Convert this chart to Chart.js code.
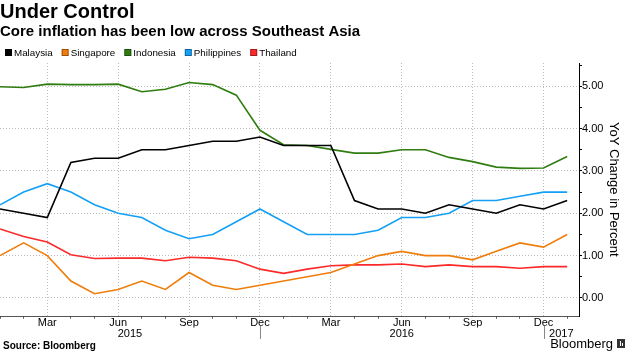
<!DOCTYPE html>
<html>
<head>
<meta charset="utf-8">
<script src="https://cdn.jsdelivr.net/npm/chart.js@4.4.1/dist/chart.umd.min.js"></script>
<style>
  html, body { margin: 0; padding: 0; background: #fff; }
</style>
</head>
<body>
<canvas id="lineChart" width="630" height="354"></canvas>
<script>
// monthly, Jan 2015 .. Jan 2017
const meses = ["Jan", "Feb", "Mar", "Apr", "May", "Jun", "Jul", "Aug", "Sep", "Oct", "Nov", "Dec",
               "Jan", "Feb", "Mar", "Apr", "May", "Jun", "Jul", "Aug", "Sep", "Oct", "Nov", "Dec", "Jan"];
const anos = ["2015", "2016", "2017"];
const anoPos = [5.5, 17, 23.75];
const yTicks = [0, 1, 2, 3, 4, 5];

const malaysia = [2.1, 2.0, 1.9, 3.2, 3.3, 3.3, 3.5, 3.5, 3.6, 3.7, 3.7, 3.8,
                  3.6, 3.6, 3.6, 2.3, 2.1, 2.1, 2.0, 2.2, 2.1, 2.0, 2.2, 2.1, 2.3];
const singapore = [1.0, 1.3, 1.0, 0.4, 0.1, 0.2, 0.4, 0.2, 0.6, 0.3, 0.2, 0.3,
                   0.4, 0.5, 0.6, 0.8, 1.0, 1.1, 1.0, 1.0, 0.9, 1.1, 1.3, 1.2, 1.5];
const indonesia = [4.99, 4.97, 5.05, 5.04, 5.04, 5.05, 4.87, 4.93, 5.09, 5.04, 4.79, 3.96,
                   3.62, 3.6, 3.51, 3.42, 3.42, 3.5, 3.5, 3.32, 3.22, 3.09, 3.06, 3.07, 3.34];
const philippines = [2.2, 2.5, 2.7, 2.5, 2.2, 2.0, 1.9, 1.6, 1.4, 1.5, 1.8, 2.1,
                     1.8, 1.5, 1.5, 1.5, 1.6, 1.9, 1.9, 2.0, 2.3, 2.3, 2.4, 2.5, 2.5];
const thailand = [1.63, 1.45, 1.32, 1.02, 0.93, 0.94, 0.94, 0.88, 0.96, 0.94, 0.88, 0.68,
                  0.58, 0.68, 0.76, 0.78, 0.78, 0.8, 0.74, 0.78, 0.74, 0.74, 0.7, 0.74, 0.74];

const fonte = "'Liberation Sans', Arial, sans-serif";
let pontos = (arr) => arr.map((v, i) => ({ x: i, y: v }));
let serie = (nome, arr, cor) => ({
    label: nome,
    data: pontos(arr),
    borderColor: cor,
    backgroundColor: cor,
    borderWidth: 1.6,
    pointRadius: 0,
    tension: 0
});
let mesPrincipal = (v) => v % 3 === 2;

// legend row under the subtitle, built from the datasets
const legenda = {
    id: 'legenda',
    afterDraw(chart) {
        const c = chart.ctx;
        c.save();
        c.font = `9.8px ${fonte}`;
        c.textBaseline = 'middle';
        c.textAlign = 'left';
        let x = 5;
        chart.data.datasets.forEach(ds => {
            c.fillStyle = ds.borderColor;
            c.fillRect(x, 49, 7, 7);
            c.strokeStyle = 'rgba(0,0,0,0.35)';
            c.lineWidth = 1;
            c.strokeRect(x + 0.5, 49.5, 6, 6);
            c.fillStyle = '#000';
            c.fillText(ds.label, x + 9, 53);
            x += 9 + c.measureText(ds.label).width + 9;
        });
        c.restore();
    }
};

// axis lines, year labels, year separators and footer
const rodape = {
    id: 'rodape',
    afterDraw(chart) {
        const c = chart.ctx;
        const x = chart.scales.x;
        const a = chart.chartArea;
        c.save();
        c.lineWidth = 1;
        c.strokeStyle = '#555';
        c.beginPath();
        c.moveTo(a.left, Math.round(a.bottom) + 0.5);
        c.lineTo(a.right, Math.round(a.bottom) + 0.5);
        c.stroke();
        c.strokeStyle = '#000';
        c.beginPath();
        c.moveTo(Math.round(a.right) + 0.5, a.top);
        c.lineTo(Math.round(a.right) + 0.5, Math.round(a.bottom) + 1);
        c.stroke();

        c.fillStyle = '#000';
        c.textAlign = 'center';
        c.textBaseline = 'middle';
        c.font = `11px ${fonte}`;
        anos.forEach((ano, i) => c.fillText(ano, x.getPixelForValue(anoPos[i]), 334));
        c.strokeStyle = '#888';
        [11, 23].forEach(v => {
            const px = Math.round(x.getPixelForValue(v)) + 0.5;
            c.beginPath();
            c.moveTo(px, 326);
            c.lineTo(px, 339);
            c.stroke();
        });
        c.textAlign = 'left';
        c.font = `bold 10px ${fonte}`;
        c.fillText("Source: Bloomberg", 3, 346);
        c.textAlign = 'right';
        c.font = `13px ${fonte}`;
        c.fillText("Bloomberg", 613, 344);
        c.fillStyle = '#333';
        c.fillRect(617, 339, 8, 9);
        c.fillStyle = '#fff';
        c.fillRect(620, 341, 1, 5);
        c.fillRect(622, 343, 1, 3);
        c.restore();
    }
};

const ctx = document.getElementById('lineChart').getContext('2d');
new Chart(ctx, {
    type: 'line',
    data: {
        datasets: [
            serie("Malaysia", malaysia, '#000000'),
            serie("Singapore", singapore, '#ef7d0c'),
            serie("Indonesia", indonesia, '#2f7d10'),
            serie("Philippines", philippines, '#14a0f5'),
            serie("Thailand", thailand, '#fb2a2a')
        ]
    },
    options: {
        responsive: false,
        animation: false,
        layout: { padding: { left: 0, right: 7, top: 0, bottom: 26.5 } },
        plugins: {
            title: {
                display: true,
                text: "Under Control",
                align: 'start',
                color: '#000',
                font: { family: fonte, size: 20, weight: 'bold', lineHeight: 1.1 },
                padding: { top: 1, bottom: 0 }
            },
            subtitle: {
                display: true,
                text: "Core inflation has been low across Southeast Asia",
                align: 'start',
                color: '#000',
                font: { family: fonte, size: 15, weight: 'bold', lineHeight: 1.2 },
                padding: { top: 0, bottom: 22 }
            },
            legend: { display: false },
            tooltip: { enabled: false }
        },
        scales: {
            x: {
                type: 'linear',
                min: 0,
                max: 24.5,
                afterBuildTicks: (eixo) => { eixo.ticks = meses.map((m, i) => ({ value: i })); },
                ticks: {
                    autoSkip: false,
                    maxRotation: 0,
                    padding: 0,
                    color: '#000',
                    font: { family: fonte, size: 11, lineHeight: 0.8 },
                    callback: (v) => (mesPrincipal(v) ? meses[v] : '')
                },
                grid: {
                    color: (c) => (c.tick && mesPrincipal(c.tick.value) ? '#bdbdbd' : 'rgba(0,0,0,0)'),
                    tickColor: (c) => (c.tick && mesPrincipal(c.tick.value) ? 'rgba(0,0,0,0)' : '#555'),
                    tickLength: 3,
                    tickBorderDash: [],
                    lineWidth: 1
                },
                border: { display: false, dash: [1, 2] }
            },
            y: {
                position: 'right',
                min: -0.42,
                max: 5.55,
                afterBuildTicks: (eixo) => {
                    let t = [];
                    yTicks.forEach(v => { t.push({ value: v }); t.push({ value: v + 0.5 }); });
                    eixo.ticks = t;
                },
                ticks: {
                    padding: 0,
                    color: '#000',
                    font: { family: fonte, size: 11 },
                    callback: (v) => (Number.isInteger(v) ? v.toFixed(2) : '')
                },
                grid: {
                    color: (c) => (c.tick && Number.isInteger(c.tick.value) ? '#bdbdbd' : 'rgba(0,0,0,0)'),
                    tickColor: '#000',
                    tickLength: 3,
                    tickBorderDash: []
                },
                border: { display: false, dash: [1, 2] },
                title: {
                    display: true,
                    text: "YoY Change in Percent",
                    color: '#000',
                    font: { family: fonte, size: 13 },
                    padding: { top: 2, bottom: 2 }
                }
            }
        }
    },
    plugins: [legenda, rodape]
});
</script>
</body>
</html>
